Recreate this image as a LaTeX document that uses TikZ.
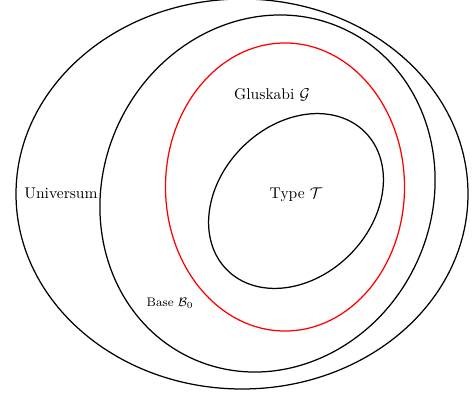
\documentclass[tikz,border=0pt]{standalone}
\usepackage{amsmath}
\usepackage{xcolor}
\usepackage{tikz}
\usetikzlibrary{positioning}

\begin{document}
\begin{tikzpicture}[
  x=0.0226cm,y=0.0226cm,
  set/.style={draw=black,thick},
  gset/.style={draw=red,thick},
  lbl/.style={font=\normalsize,inner sep=1pt}
]
\useasboundingbox (0,0) rectangle (475,399);
% sets, outermost first
\draw[set] (242,205) ellipse[x radius=226,y radius=195];
\draw[set,rotate around={-25:(267.5,205.5)}]
  (267.5,205.5) ellipse[x radius=164.4,y radius=181.4];
\draw[gset] (285,212) ellipse[x radius=119.5,y radius=144];
\draw[set,rotate around={45:(296,198)}]
  (296,198) ellipse[x radius=97.5,y radius=76];
\node[lbl] (univ) at (61,206) {Universum};
\node[lbl] (glus) at (272,304) {Gluskabi $\mathcal{G}$};
\node[lbl] (type) at (296,204) {Type $\mathcal{T}$};
\node[lbl,font=\footnotesize] (base) at (170,96) {Base $\mathcal{B}_0$};
\end{tikzpicture}
\end{document}
